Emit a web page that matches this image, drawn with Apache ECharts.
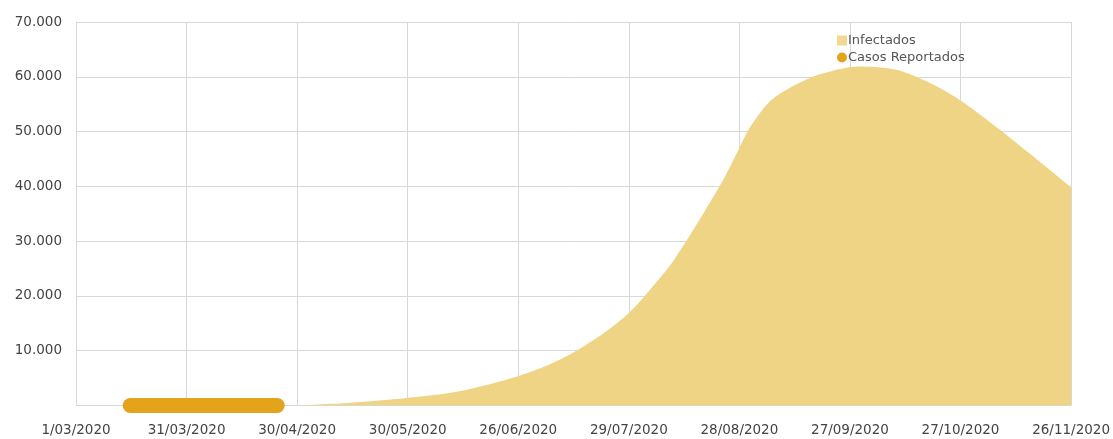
<!DOCTYPE html>
<html>
<head>
<meta charset="utf-8">
<script src="https://cdn.jsdelivr.net/npm/echarts@6/dist/echarts.min.js"></script>
<style>
  html, body { margin: 0; padding: 0; background: #fff; }
  #chart { width: 1113px; height: 439px; }
</style>
</head>
<body>
<div id="chart"></div>
<script>
  // etiquetas del eje x (una por cada línea vertical)
  const dateLabels = ['1/03/2020', '31/03/2020', '30/04/2020', '30/05/2020', '26/06/2020',
    '29/07/2020', '28/08/2020', '27/09/2020', '27/10/2020', '26/11/2020']

  // posición en el eje (índice de etiqueta) y valores de infectados
  const infectPos = [2.0, 2.48, 2.99, 3.44, 3.99, 4.37, 4.73, 5.0, 5.19, 5.41, 5.82, 5.98,
    6.09, 6.27, 6.45, 6.72, 7.08, 7.42, 7.72, 7.99, 8.32, 8.62, 9.0]
  const infectVals = [0, 500, 1370, 2500, 5300, 8300, 12600, 16900, 21100, 26600, 40000, 46200,
    50600, 55400, 57900, 60400, 61900, 61300, 58900, 55800, 50900, 46100, 39800]

  // casos reportados
  const casosPos = [0.49, 1.82]
  const casosVals = [0, 0]

  const chart = echarts.init(document.getElementById('chart'))
  const font = 'DejaVu Sans'

  chart.setOption({
    animation: false,
    textStyle: { fontFamily: font },
    legend: {
      orient: 'vertical',
      left: 832,
      top: 29,
      itemWidth: 10,
      itemHeight: 10,
      itemGap: 4,
      textStyle: { color: '#555', fontSize: 13, padding: [0, 0, 0, -4] },
      data: [
        { name: 'Infectados', icon: 'rect', itemStyle: { color: '#F3D891' } },
        { name: 'Casos Reportados', icon: 'circle', itemStyle: { color: '#E3A31B' } }
      ]
    },
    grid: { left: 76, right: 41, top: 22, bottom: 33.5 },
    xAxis: {
      type: 'value',
      min: 0,
      max: 9,
      interval: 1,
      axisLine: { show: false },
      axisTick: { show: false },
      axisLabel: {
        color: '#444',
        fontSize: 13.5,
        margin: 18,
        formatter: (v) => dateLabels[Math.round(v)] || ''
      },
      splitLine: { show: true, lineStyle: { color: '#d8d8d8' } }
    },
    yAxis: {
      type: 'value',
      min: 0,
      max: 70000,
      interval: 10000,
      axisLine: { show: false },
      axisTick: { show: false },
      axisLabel: {
        color: '#444',
        fontSize: 13.5,
        margin: 14,
        formatter: (v) => v === 0 ? '' : (v / 1000).toFixed(0) + '.000'
      },
      splitLine: { show: true, lineStyle: { color: '#d8d8d8' } }
    },
    series: [
      {
        name: 'Infectados',
        type: 'line',
        smooth: 0.3,
        symbol: 'none',
        lineStyle: { width: 0 },
        itemStyle: { color: '#F3D891' },
        areaStyle: { color: '#F0D486', opacity: 1 },
        data: infectPos.map((x, i) => [x, infectVals[i]])
      },
      {
        name: 'Casos Reportados',
        type: 'line',
        symbol: 'none',
        clip: false,
        z: 5,
        itemStyle: { color: '#E3A31B' },
        lineStyle: { width: 15, cap: 'round', color: '#E3A31B' },
        data: casosPos.map((x, i) => [x, casosVals[i]])
      }
    ]
  })
</script>
</body>
</html>
